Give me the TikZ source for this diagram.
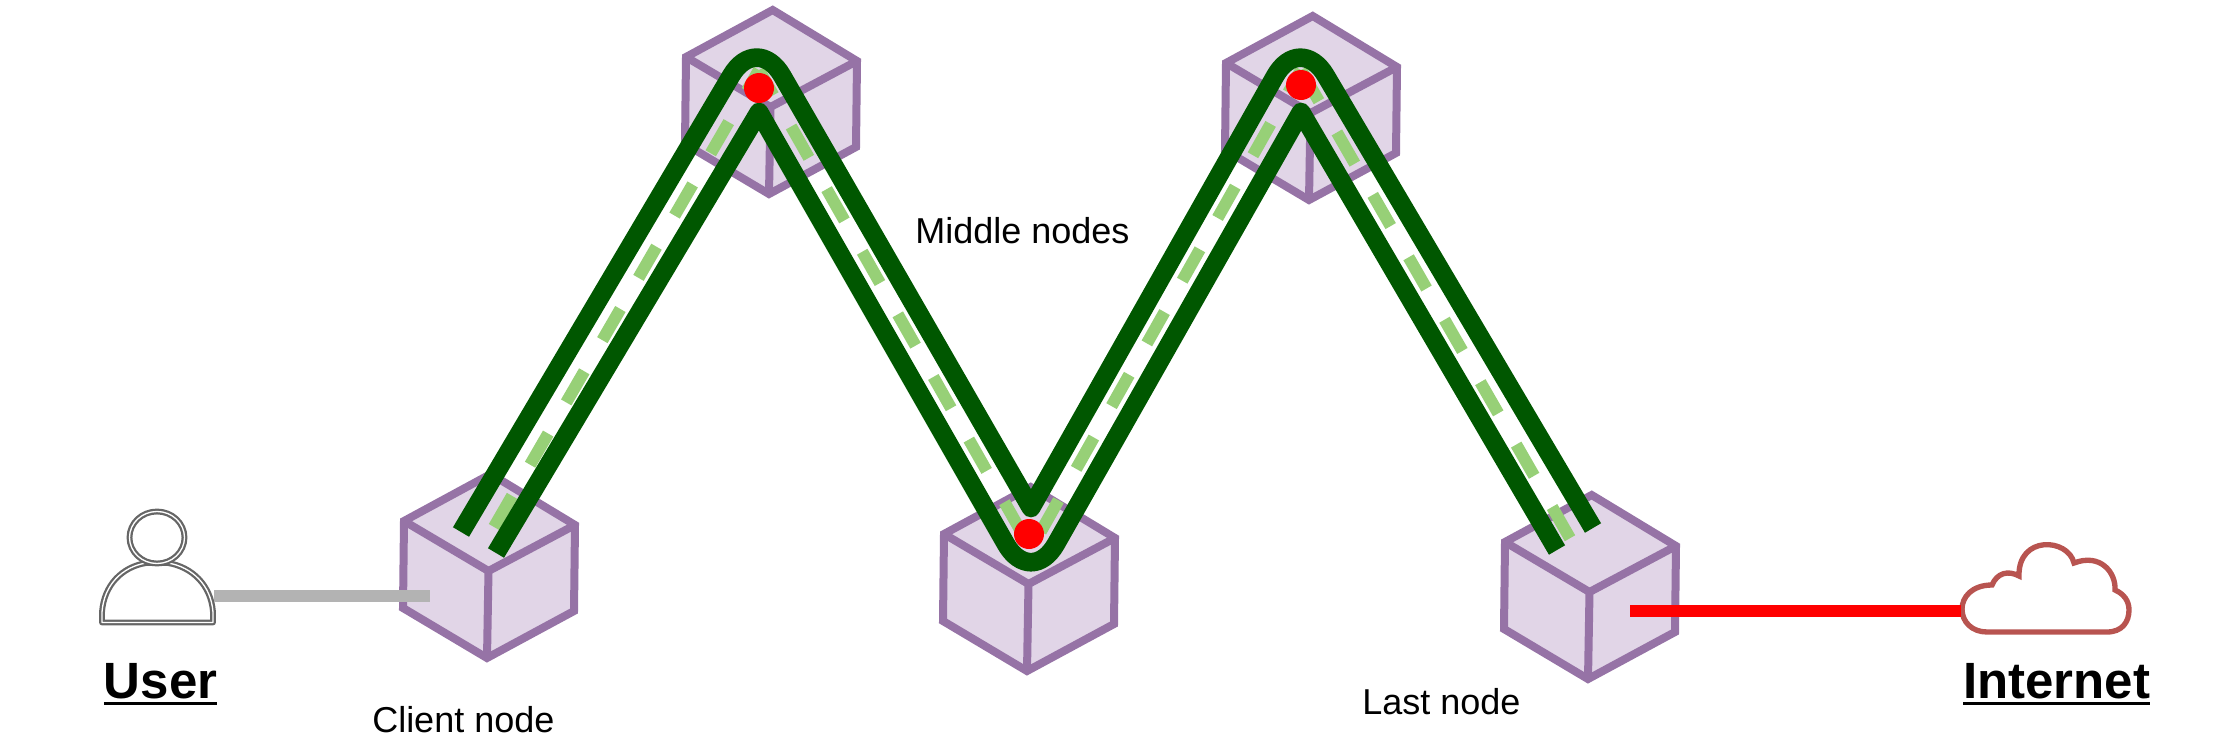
\documentclass[tikz,border=0pt]{standalone}
\usepackage{fontspec}
\setmainfont{Liberation Sans}
\definecolor{cubefill}{HTML}{E1D5E7}
\definecolor{cubeline}{HTML}{9673A6}
\definecolor{tunnel}{HTML}{005700}
\definecolor{tunneldash}{HTML}{97D077}
\definecolor{cloudline}{HTML}{B85450}
\definecolor{userline}{HTML}{666666}
\definecolor{userlink}{HTML}{B3B3B3}
\newcommand{\ulbig}[1]{\setbox0\hbox{#1}\rlap{\rule[-4.9pt]{\wd0}{2.25pt}}\box0}
\tikzset{
  cubeface/.style={fill=cubefill,draw=cubeline,line width=6pt,line join=miter},
  tunnelstrand/.style={draw=tunnel,line width=14pt,line join=round},
  tunnelmid/.style={draw=tunneldash,line width=9pt,dash pattern=on 27pt off 27pt},
  hopdot/.style={circle,fill=red,inner sep=0pt,minimum size=22.5pt},
  userlinkstyle/.style={draw=userlink,line width=9pt},
  netlinkstyle/.style={draw=red,line width=9pt},
  usericon/.style={draw=userline,fill=white,line width=1.7pt,double=white,double distance=1pt,line join=round},
  cloudshape/.style={draw=cloudline,fill=white,line width=4pt,line join=miter},
  smalltext/.style={anchor=base west,inner sep=0pt,font=\fontsize{27}{32}\selectfont},
  bigtext/.style={anchor=base west,inner sep=0pt,font=\fontsize{38.25}{45}\selectfont\bfseries}
}
\newcommand{\cubeat}[3]{% name, bottom vertex x, y
  \begin{scope}[shift={(#2,#3)}]
    \coordinate (#1) at (0,0);
    \path[cubeface] (0,0) -- (-84,-50) -- (-83,-137) -- (3.7,-184) -- (88,-133) -- (87,-47) -- cycle;
    \path[cubeface,fill=none] (-83,-137) -- (1.5,-87) -- (88,-133) (1.5,-87) -- (0,0);
  \end{scope}
}
\begin{document}
\begin{tikzpicture}[x=0.75pt,y=-0.75pt]
\useasboundingbox (0,0) rectangle (2217,753);
\cubeat{cubeclient}{487}{658}
\cubeat{cubeA}{769}{194}
\cubeat{cubeB}{1027}{671}
\cubeat{cubeC}{1309}{200}
\cubeat{cubelast}{1588}{679}

% user icon
\path[usericon] (102,622.5) -- (102,612) .. controls (104,585) and (122,567) .. (146,563) -- (168,563) .. controls (192,567) and (211,585) .. (213,612) -- (213,622.5) -- cycle;
\path[usericon] (157,537.5) ellipse [x radius=27.5,y radius=26];
\coordinate (userport) at (214,596);
\coordinate (clientport) at (430,596);
\draw[userlinkstyle] (userport) -- (clientport);

% cloud
\path[cloudshape] (1987,632) -- (2107,632)
  .. controls (2122,632) and (2129,622) .. (2129,610)
  .. controls (2129,601) and (2124,594) .. (2115,590)
  .. controls (2116,572) and (2100,553) .. (2074,563)
  .. controls (2068,538) and (2018,535) .. (2019,576)
  .. controls (2008,570) and (1997,573) .. (1992,585)
  .. controls (1972,585) and (1962,597) .. (1962,609)
  .. controls (1962,622) and (1972,632) .. (1987,632) -- cycle;
\coordinate (lastport) at (1630,611);
\coordinate (cloudport) at (1961,611);
\draw[netlinkstyle] (lastport) -- (cloudport);

% tunnels
\coordinate (midS) at (494,527);
\coordinate (midA) at (759,70);
\coordinate (midB) at (1031,549);
\coordinate (midC) at (1301,70);
\coordinate (midE) at (1571,540);
\draw[tunnelmid] (midS) -- (midA);
\draw[tunnelmid,dash phase=5.25pt] (midA) -- (midB);
\draw[tunnelmid,dash phase=39pt] (midB) -- (midC);
\draw[tunnelmid] (midC) -- (midE);
\coordinate (outS) at (461,532);
\coordinate (outA) at (757,32);
\coordinate (outB) at (1031,588);
\coordinate (outC) at (1300,32);
\coordinate (outE) at (1593,528);
\coordinate (inS) at (496,553);
\coordinate (inA) at (759,112);
\coordinate (inB) at (1031,508);
\coordinate (inC) at (1301,112);
\coordinate (inE) at (1557,550);
\draw[tunnelstrand] (outS) [rounded corners=38pt] -- (outA) [sharp corners] -- (inB) [rounded corners=38pt] -- (outC) [sharp corners] -- (outE);
\draw[tunnelstrand] (inS) -- (inA) [rounded corners=38pt] -- (outB) [sharp corners] -- (inC) -- (inE);

\node[hopdot] (hopA) at (759,88) {};
\node[hopdot] (hopB) at (1029,534) {};
\node[hopdot] (hopC) at (1301,85) {};

% labels
\node[bigtext] (userlabel) at (103.6,698) {\ulbig{User}};
\node[bigtext] (netlabel) at (1963,698) {\ulbig{Internet}};
\node[smalltext] (clientlabel) at (372,732) {Client node};
\node[smalltext] (midlabel) at (915,243) {Middle nodes};
\node[smalltext] (lastlabel) at (1362,714) {Last node};
\end{tikzpicture}
\end{document}
